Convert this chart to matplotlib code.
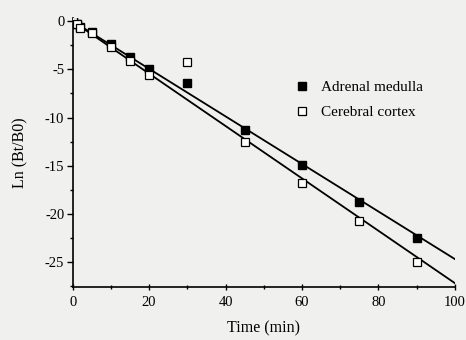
import numpy as np
import matplotlib.pyplot as plt
from matplotlib.ticker import MultipleLocator

# data
time_min = [0, 1, 2, 5, 10, 15, 20, 30, 45, 60, 75, 90]
medulla = [0.0, -0.3, -0.6, -1.15, -2.4, -3.75, -5.0, -6.45, -11.25, -14.95, -18.75, -22.5]
cortex = [0.0, -0.3, -0.65, -1.2, -2.7, -4.1, -5.6, -4.25, -12.5, -16.8, -20.8, -25.0]

# fitted lines (intercept, slope)
fit_x = [0, 100]
medulla_fit = (0.0, -0.247)
cortex_fit = (0.0, -0.272)

plt.rcParams['font.family'] = ['Liberation Serif', 'DejaVu Serif']
plt.rcParams['axes.unicode_minus'] = False

fig = plt.figure(figsize=(4.66, 3.40), dpi=100, facecolor='#f0f0ee')
ax = fig.add_axes([0.156, 0.156, 0.82, 0.79])
ax.set_facecolor('#f0f0ee')

fx = np.array(fit_x)
ax.plot(fx, medulla_fit[0] + medulla_fit[1] * fx, color='black', lw=1.3, zorder=2)
ax.plot(fx, cortex_fit[0] + cortex_fit[1] * fx, color='black', lw=1.3, zorder=2)

ax.plot(time_min, medulla, ls='none', marker='s', ms=5.2, mfc='black', mec='black',
        label='Adrenal medulla', zorder=3)
ax.plot(time_min, cortex, ls='none', marker='s', ms=5.2, mfc='white', mec='black',
        mew=0.9, label='Cerebral cortex', zorder=3)

ax.set_xlim(0, 100)
ax.set_ylim(-27.6, 0.3)
ax.xaxis.set_major_locator(MultipleLocator(20))
ax.xaxis.set_minor_locator(MultipleLocator(10))
ax.yaxis.set_major_locator(MultipleLocator(5))
ax.yaxis.set_minor_locator(MultipleLocator(2.5))

for s in ['top', 'right']:
    ax.spines[s].set_visible(False)
for s in ['left', 'bottom']:
    ax.spines[s].set_linewidth(1.2)

ax.tick_params(axis='x', which='both', direction='inout', labelsize=10.5, pad=4)
ax.tick_params(axis='x', which='major', length=5, width=1)
ax.tick_params(axis='x', which='minor', length=3, width=1)
ax.tick_params(axis='y', which='both', direction='out', labelsize=10.5, pad=2)
ax.tick_params(axis='y', which='major', length=4, width=1)
ax.tick_params(axis='y', which='minor', length=2.5, width=1)

ax.set_xlabel('Time (min)', fontsize=11.5, labelpad=8)
ax.set_ylabel('Ln (Bt/B0)', fontsize=11.5, labelpad=12)

ax.legend(loc='upper left', bbox_to_anchor=(0.545, 0.82), frameon=False,
          fontsize=11, handletextpad=0.7, labelspacing=0.75, handlelength=1.0)

fig.savefig('out.png', dpi=100, facecolor=fig.get_facecolor())
